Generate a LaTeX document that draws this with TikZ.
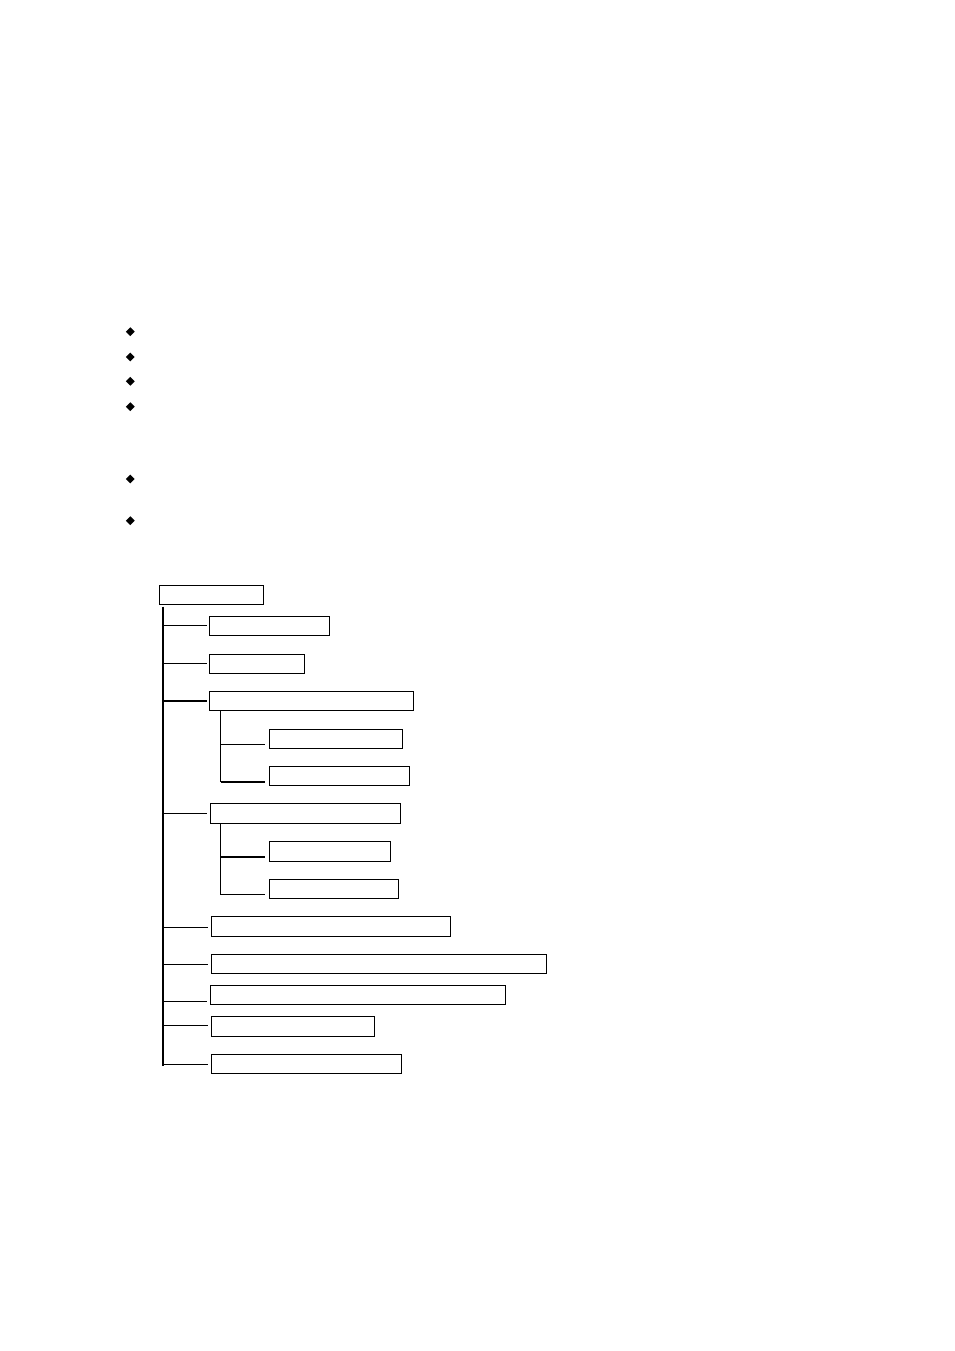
\documentclass[tikz,border=0pt]{standalone}
\usetikzlibrary{shapes.geometric}
\begin{document}
\begin{tikzpicture}[x=1pt,y=-1pt,
  box/.style={draw=black,line width=1pt,rectangle,inner sep=0pt,anchor=north west},
  thin/.style={line width=0.9pt},
  thick/.style={line width=2pt},
  bul/.style={diamond,fill=black,inner sep=0pt,minimum width=9pt,minimum height=9pt}]
\useasboundingbox (0,0) rectangle (954,1351);
% bullets
\foreach \y [count=\i] in {331.7,357,381.3,406.7,479,520.7}
  \node[bul] (d\i) at (130.3,\y) {};
% boxes: name / x1 / y1 / x2 / y2
\foreach \n/\xa/\ya/\xb/\yb in {
  root/158.3/584.3/263.7/604.3,
  b1/209/615.3/329.7/635.3,
  b2/209/653.3/304.7/673.3,
  b3/209/690.7/413.7/710.3,
  s1/268.3/728.7/402.7/748.3,
  s2/268.3/765.3/409.3/785.3,
  b4/209.3/802.3/400.3/823.3,
  s3/268.3/840.3/390.3/861.3,
  s4/268.3/878.3/398.7/898.3,
  b5/210.3/915.3/450.7/936.3,
  b6/210.3/953.3/546.7/973.3,
  b7/209.3/984.3/505.7/1004.3,
  b8/210.3/1015.3/374.7/1036.3,
  b9/210.3/1053.3/401.7/1073.3}
{
  \pgfmathsetmacro\w{\xb-\xa-0.8}
  \pgfmathsetmacro\h{\yb-\ya-0.8}
  \node[box,minimum width=\w pt,minimum height=\h pt] (\n) at (\xa+0.4,\ya+0.4) {};
}
% main trunk
\coordinate (tTop) at (163,606.7);
\coordinate (tBot) at (163,1065.7);
\draw[thick] (tTop) -- (tBot);
\foreach \n/\y/\st in {b1/625.7/thin,b2/663.7/thin,b3/701/thick,b4/813.3/thin,b5/927/thin,b6/964.3/thin,b7/1001.3/thin,b8/1025.3/thin,b9/1064.3/thin}
{
  \coordinate (c\n) at (163,\y);
  \draw[\st,shorten >=2.5pt] (c\n) -- (\n.west |- c\n);
}
% sub trunks
\coordinate (u3) at (220.7,710.3);
\coordinate (v3) at (220.7,781.7);
\draw[thin] (u3) -- (v3);
\coordinate (cs1) at (220.7,744);
\draw[thin,shorten >=4pt] (cs1) -- (s1.west |- cs1);
\draw[thick,shorten >=4pt] (v3) -- (s2.west |- v3);
\coordinate (u4) at (220.3,823.3);
\coordinate (v4) at (220.3,894.3);
\draw[thin] (u4) -- (v4);
\coordinate (cs3) at (220.3,856.7);
\draw[thick,shorten >=4pt] (cs3) -- (s3.west |- cs3);
\draw[thin,shorten >=4pt] (v4) -- (s4.west |- v4);
\end{tikzpicture}
\end{document}
